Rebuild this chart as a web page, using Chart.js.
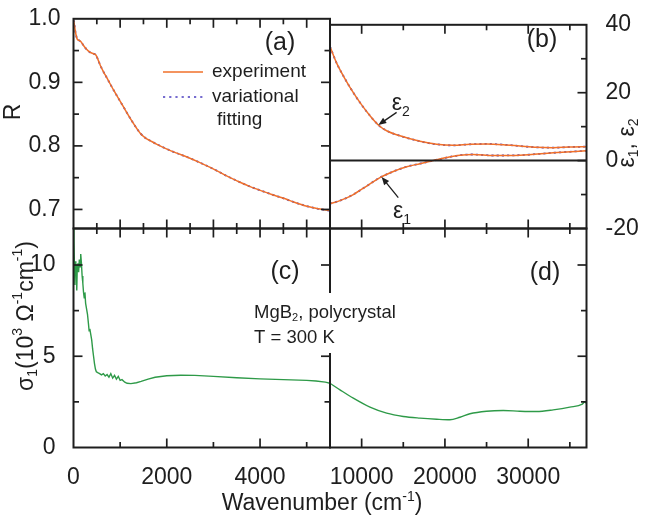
<!DOCTYPE html>
<html>
<head>
<meta charset="utf-8">
<script src="https://cdn.jsdelivr.net/npm/chart.js@4.4.1/dist/chart.umd.min.js"></script>
<style>
  html, body { margin: 0; padding: 0; background: #fff; }
  #wrap { position: relative; width: 647px; height: 520px; }
  #wrap canvas { position: absolute; left: 0; top: 0; }
</style>
</head>
<body>
<div id="wrap">
  <canvas id="pa" width="647" height="520"></canvas>
  <canvas id="pb" width="647" height="520"></canvas>
  <canvas id="pc" width="647" height="520"></canvas>
  <canvas id="pd" width="647" height="520"></canvas>
</div>
<script>
// (a) reflectivity, 0 - 5500 cm-1
const rWave = [0, 20, 40, 80, 120, 160, 215, 280, 360, 430, 480, 530, 573, 640, 716, 790, 858, 930, 1002, 1075, 1146, 1220, 1288, 1360, 1431, 1539, 1650, 1790, 2004, 2200, 2433, 2700, 3005, 3250, 3506, 3750, 4006, 4250, 4506, 4750, 5009, 5250, 5500];
const rExp = [0.998, 0.99, 0.98, 0.968, 0.966, 0.964, 0.958, 0.952, 0.947, 0.945, 0.943, 0.935, 0.927, 0.917, 0.907, 0.897, 0.888, 0.879, 0.870, 0.861, 0.852, 0.843, 0.835, 0.827, 0.820, 0.8125, 0.808, 0.8025, 0.795, 0.789, 0.7825, 0.774, 0.7635, 0.754, 0.745, 0.737, 0.730, 0.7235, 0.7175, 0.711, 0.705, 0.701, 0.698];
const rFit = [0.998, 0.99, 0.98, 0.968, 0.966, 0.964, 0.958, 0.952, 0.947, 0.945, 0.943, 0.935, 0.927, 0.917, 0.907, 0.897, 0.888, 0.879, 0.870, 0.861, 0.852, 0.843, 0.835, 0.827, 0.820, 0.8125, 0.808, 0.8025, 0.795, 0.789, 0.7825, 0.774, 0.7635, 0.754, 0.745, 0.737, 0.730, 0.7235, 0.7175, 0.711, 0.705, 0.701, 0.698];

// (b) dielectric function, 6200 - 37000 cm-1
const eps2Wave = [6200, 7000, 8000, 9000, 10000, 11000, 12000, 13000, 14600, 17000, 19000, 21000, 23000, 25000, 27000, 29000, 31000, 33000, 35000, 37000];
const eps2 = [33.6, 28.7, 24.1, 20.0, 16.4, 13.2, 10.5, 8.8, 7.3, 5.7, 4.8, 4.5, 4.8, 4.9, 4.7, 4.3, 3.9, 3.8, 4.0, 4.1];
const eps1Wave = [6200, 7400, 9000, 10600, 12200, 13800, 15400, 17000, 18600, 20200, 21800, 23400, 25800, 29000, 33000, 37000];
const eps1 = [-12.7, -11.8, -10.0, -7.5, -5.0, -3.2, -1.8, -0.9, 0.0, 0.9, 1.6, 1.8, 1.5, 1.6, 2.3, 2.9];

// (c) optical conductivity, 0 - 5500 cm-1 (10^3 Ohm-1 cm-1)
const sigLowWave = [0, 10, 20, 30, 40, 50, 60, 70, 80, 95, 110, 125, 140, 155, 170, 185, 200, 215, 230, 245, 260, 280, 300, 320, 335, 350, 370, 390, 410, 430, 450, 470, 490, 520, 560, 600, 640, 680, 720, 760, 800, 840, 880, 920, 960, 1000, 1040, 1100, 1150, 1230, 1350, 1450, 1600, 1750, 2000, 2300, 2600, 3000, 3500, 4000, 4500, 5000, 5200, 5400, 5500];
const sigLow = [12.0, 11.3, 10.0, 8.9, 10.2, 9.4, 10.0, 8.6, 9.8, 10.1, 9.6, 10.3, 9.9, 10.6, 10.1, 9.4, 9.0, 8.5, 8.2, 8.5, 7.9, 7.6, 7.3, 6.8, 6.4, 6.5, 6.2, 5.9, 5.4, 5.0, 4.6, 4.3, 4.15, 4.1, 4.05, 3.98, 4.05, 3.92, 4.0, 3.85, 4.05, 3.8, 3.95, 3.75, 3.9, 3.68, 3.72, 3.58, 3.52, 3.5, 3.55, 3.62, 3.75, 3.85, 3.93, 3.96, 3.95, 3.9, 3.82, 3.76, 3.72, 3.68, 3.64, 3.58, 3.52];

// (d) optical conductivity, 6200 - 37000 cm-1
const sigHighWave = [6200, 7400, 9000, 11000, 13000, 15000, 17000, 19000, 20600, 21800, 23000, 25000, 27000, 29000, 31000, 33000, 35000, 36500, 36800, 37000];
const sigHigh = [3.52, 3.16, 2.7, 2.21, 1.88, 1.70, 1.61, 1.55, 1.52, 1.66, 1.85, 1.99, 2.03, 1.99, 1.97, 2.06, 2.21, 2.38, 2.5, 2.42];

// tick labels
const rTicks = [0.7, 0.8, 0.9, 1.0];
const epsTicks = [-20, 0, 20, 40];
const sigTicks = [0, 5, 10];
const lowWaveTicks = [0, 2000, 4000];
const highWaveTicks = [10000, 20000, 30000];

const W = 647, H = 520;
const L = 73.5, M = 330, R = 586.5, T = 8.5, MID = 228.5, B = 447.5;
const INK = '#1e1e1e';
const FONT = "'Liberation Sans', Arial, sans-serif";
const ORANGE = '#f0702a', VIOLET = '#4a3cc0', GREEN = '#2e9a48';
const TICK_SIZE = 23;

Chart.defaults.font.family = FONT;
Chart.defaults.color = INK;

function range(a, b, step) {
    const out = [];
    for (let v = a; v <= b + 1e-9; v += step) out.push(+v.toFixed(4));
    return out;
}

function pts(xs, ys) {
    return xs.map(function (x, i) { return { x: x, y: ys[i] }; });
}

// draws text with sub / superscript pieces
function rich(ctx, parts, x, y, size, align) {
    const fontOf = p => ((p.sub || p.sup) ? Math.round(size * 0.62) : size) + 'px ' + FONT;
    let w = 0;
    parts.forEach(p => { ctx.font = fontOf(p); w += ctx.measureText(p.t).width; });
    let cx = align === 'center' ? x - w / 2 : x;
    ctx.textAlign = 'left';
    parts.forEach(p => {
        ctx.font = fontOf(p);
        const dy = p.sub ? size * 0.28 : p.sup ? -size * 0.4 : 0;
        ctx.fillText(p.t, cx, y + dy);
        cx += ctx.measureText(p.t).width;
    });
}

function isMajor(v, m) {
    const q = v / m;
    return Math.abs(q - Math.round(q)) < 1e-6;
}

// box frame with inward ticks on every side
function frame(cfg) {
    return {
        id: 'frame',
        afterDatasetsDraw(chart) {
            const { ctx, chartArea: a, scales: { x, y } } = chart;
            ctx.save();
            ctx.strokeStyle = INK;
            ctx.lineWidth = 1.7;
            const seg = (x0, y0, x1, y1) => { ctx.beginPath(); ctx.moveTo(x0, y0); ctx.lineTo(x1, y1); ctx.stroke(); };
            const len = (v, spec) => isMajor(v, spec.major) ? 9 : 5.5;
            if (cfg.top) cfg.top.vals.forEach(v => { const p = x.getPixelForValue(v); seg(p, a.top, p, a.top + len(v, cfg.top)); });
            if (cfg.bottom) cfg.bottom.vals.forEach(v => { const p = x.getPixelForValue(v); seg(p, a.bottom, p, a.bottom - len(v, cfg.bottom)); });
            if (cfg.left) cfg.left.vals.forEach(v => { const p = y.getPixelForValue(v); seg(a.left, p, a.left + len(v, cfg.left), p); });
            if (cfg.right) cfg.right.vals.forEach(v => { const p = y.getPixelForValue(v); seg(a.right, p, a.right - len(v, cfg.right), p); });
            ctx.lineWidth = 2;
            if (cfg.zero) { const p = y.getPixelForValue(0); seg(a.left, p, a.right, p); }
            ctx.strokeRect(a.left, a.top, a.right - a.left, a.bottom - a.top);
            ctx.restore();
        }
    };
}

function panel(id, area, xs, ys, datasets, ticksCfg, extra) {
    const yLeft = ys.position === 'left';
    const xH = xs.labels ? 44 : 0;
    const yW = yLeft ? area.l : W - area.r;
    const plugins = [frame(ticksCfg)];
    if (extra) plugins.push({ id: 'extra' + id, afterDraw: extra });
    return new Chart(document.getElementById(id), {
        type: 'line',
        data: { datasets: datasets },
        options: {
            responsive: false,
            animation: false,
            layout: {
                autoPadding: false,
                padding: {
                    left: yLeft ? 0 : area.l,
                    right: yLeft ? W - area.r : 0,
                    top: area.t,
                    bottom: H - area.b - xH
                }
            },
            plugins: { legend: { display: false }, tooltip: { enabled: false } },
            elements: { point: { radius: 0 }, line: { cubicInterpolationMode: 'monotone' } },
            scales: {
                x: {
                    type: 'linear', min: xs.min, max: xs.max,
                    grid: { display: false }, border: { display: false },
                    ticks: { display: !!xs.labels, padding: 8, font: { size: TICK_SIZE }, color: INK, maxRotation: 0, autoSkip: false, callback: v => String(v) },
                    afterBuildTicks: s => { if (xs.labels) s.ticks = xs.labels.map(v => ({ value: v })); },
                    afterFit: s => { s.height = xH; }
                },
                y: {
                    type: 'linear', position: ys.position, min: ys.min, max: ys.max,
                    grid: { display: false }, border: { display: false },
                    ticks: { display: !!ys.labels, padding: ys.pad || 8, font: { size: TICK_SIZE }, color: INK, autoSkip: false, callback: ys.fmt || (v => String(v)) },
                    afterBuildTicks: s => { if (ys.labels) s.ticks = ys.labels.map(v => ({ value: v })); },
                    afterFit: s => { s.width = yW; }
                }
            }
        },
        plugins: plugins
    });
}

function arrow(ctx, x0, y0, x1, y1) {
    const ang = Math.atan2(y1 - y0, x1 - x0);
    ctx.beginPath(); ctx.moveTo(x0, y0); ctx.lineTo(x1 - 5 * Math.cos(ang), y1 - 5 * Math.sin(ang)); ctx.stroke();
    ctx.beginPath();
    ctx.moveTo(x1, y1);
    ctx.lineTo(x1 - 8 * Math.cos(ang) + 3.2 * Math.sin(ang), y1 - 8 * Math.sin(ang) - 3.2 * Math.cos(ang));
    ctx.lineTo(x1 - 8 * Math.cos(ang) - 3.2 * Math.sin(ang), y1 - 8 * Math.sin(ang) + 3.2 * Math.cos(ang));
    ctx.closePath(); ctx.fill();
}

const expStyle = { borderColor: ORANGE, borderWidth: 1.5 };
const fitStyle = { borderColor: VIOLET, borderWidth: 1.8, borderDash: [2.2, 3] };

// (a)
panel('pa', { l: L, t: T, r: M, b: MID },
    { min: 0, max: 5500 },
    { position: 'left', min: 0.67, max: 1.0, labels: rTicks, pad: 5, fmt: v => v.toFixed(1) },
    [Object.assign({ data: pts(rWave, rExp) }, expStyle), Object.assign({ data: pts(rWave, rFit) }, fitStyle)],
    {
        top: { vals: range(500, 5500, 500), major: 1000 },
        bottom: { vals: range(500, 5500, 500), major: 1000 },
        left: { vals: range(0.7, 0.95, 0.05), major: 0.1 },
        right: { vals: range(0.7, 0.95, 0.05), major: 0.1 }
    },
    function (chart) {
        const ctx = chart.ctx;
        ctx.save();
        ctx.fillStyle = INK; ctx.textBaseline = 'middle';
        ctx.font = '25px ' + FONT; ctx.textAlign = 'center';
        ctx.fillText('(a)', 280, 43);
        ctx.font = '19px ' + FONT; ctx.textAlign = 'left';
        ctx.fillText('experiment', 212, 72);
        ctx.fillText('variational', 212, 97);
        ctx.fillText('fitting', 217, 120);
        ctx.lineWidth = 1.6;
        ctx.strokeStyle = ORANGE;
        ctx.beginPath(); ctx.moveTo(163, 72); ctx.lineTo(203, 72); ctx.stroke();
        ctx.strokeStyle = VIOLET; ctx.setLineDash([2.2, 4]);
        ctx.beginPath(); ctx.moveTo(163, 97); ctx.lineTo(203, 97); ctx.stroke();
        ctx.setLineDash([]);
        ctx.translate(14, 112); ctx.rotate(-Math.PI / 2);
        ctx.font = '23px ' + FONT; ctx.textAlign = 'center';
        ctx.fillText('R', 0, 0);
        ctx.restore();
    });

// (b)
panel('pb', { l: M, t: T, r: R, b: MID },
    { min: 6200, max: 37000 },
    { position: 'right', min: -20, max: 40, labels: epsTicks, pad: 11 },
    [Object.assign({ data: pts(eps2Wave, eps2) }, expStyle), Object.assign({ data: pts(eps2Wave, eps2) }, fitStyle),
     Object.assign({ data: pts(eps1Wave, eps1) }, expStyle), Object.assign({ data: pts(eps1Wave, eps1) }, fitStyle)],
    {
        top: { vals: range(10000, 35000, 5000), major: 10000 },
        bottom: { vals: range(10000, 35000, 5000), major: 10000 },
        right: { vals: range(-10, 30, 10), major: 20 },
        zero: true
    },
    function (chart) {
        const { ctx, scales: { x, y } } = chart;
        ctx.save();
        ctx.fillStyle = INK; ctx.strokeStyle = INK; ctx.lineWidth = 1.3;
        arrow(ctx, x.getPixelForValue(14200), y.getPixelForValue(14.2), x.getPixelForValue(12000), y.getPixelForValue(10.5));
        arrow(ctx, x.getPixelForValue(14400), y.getPixelForValue(-10.9), x.getPixelForValue(12400), y.getPixelForValue(-4.8));
        ctx.textBaseline = 'alphabetic';
        rich(ctx, [{ t: 'ε' }, { t: '2', sub: true }], x.getPixelForValue(13600), y.getPixelForValue(15.0), 23, 'left');
        rich(ctx, [{ t: 'ε' }, { t: '1', sub: true }], x.getPixelForValue(13760), y.getPixelForValue(-16.9), 23, 'left');
        ctx.textBaseline = 'middle';
        ctx.font = '25px ' + FONT; ctx.textAlign = 'center';
        ctx.fillText('(b)', 542, 40);
        ctx.translate(628, 143); ctx.rotate(-Math.PI / 2);
        rich(ctx, [{ t: 'ε' }, { t: '1', sub: true }, { t: ', ε' }, { t: '2', sub: true }], 0, 0, 23, 'center');
        ctx.restore();
    });

// (c)
panel('pc', { l: L, t: MID, r: M, b: B },
    { min: 0, max: 5500, labels: lowWaveTicks },
    { position: 'left', min: 0, max: 12, labels: sigTicks, pad: 10 },
    [{ data: pts(sigLowWave, sigLow), borderColor: GREEN, borderWidth: 1.4, cubicInterpolationMode: 'default', tension: 0 }],
    {
        top: { vals: range(500, 5500, 500), major: 1000 },
        bottom: { vals: range(1000, 5000, 1000), major: 2000 },
        left: { vals: range(2.5, 10, 2.5), major: 5 },
        right: { vals: range(2.5, 10, 2.5), major: 5 }
    },
    function (chart) {
        const ctx = chart.ctx;
        ctx.save();
        ctx.fillStyle = INK; ctx.textBaseline = 'middle';
        ctx.font = '25px ' + FONT; ctx.textAlign = 'center';
        ctx.fillText('(c)', 285, 272);
        ctx.translate(27, 316); ctx.rotate(-Math.PI / 2);
        rich(ctx, [{ t: 'σ' }, { t: '1', sub: true }, { t: '(10' }, { t: '3', sup: true }, { t: ' Ω' }, { t: '-1', sup: true }, { t: 'cm' }, { t: '-1', sup: true }, { t: ')' }], 0, 0, 23, 'center');
        ctx.restore();
    });

// (d)
panel('pd', { l: M, t: MID, r: R, b: B },
    { min: 6200, max: 37000, labels: highWaveTicks },
    { position: 'right', min: 0, max: 12 },
    [{ data: pts(sigHighWave, sigHigh), borderColor: GREEN, borderWidth: 1.4 }],
    {
        top: { vals: range(10000, 35000, 5000), major: 10000 },
        bottom: { vals: range(10000, 35000, 5000), major: 10000 },
        right: { vals: range(2.5, 10, 2.5), major: 5 }
    },
    function (chart) {
        const ctx = chart.ctx;
        ctx.save();
        ctx.fillStyle = INK; ctx.textBaseline = 'middle';
        ctx.font = '25px ' + FONT; ctx.textAlign = 'center';
        ctx.fillText('(d)', 545, 273);
        // sample note, opaque box over the divider
        ctx.fillStyle = '#fff';
        ctx.fillRect(250, 293, 150, 60);
        ctx.fillStyle = INK;
        rich(ctx, [{ t: 'MgB' }, { t: '2', sub: true }, { t: ', polycrystal' }], 254, 313, 18.5, 'left');
        rich(ctx, [{ t: 'T = 300 K' }], 254, 338, 18.5, 'left');
        ctx.textBaseline = 'alphabetic';
        rich(ctx, [{ t: 'Wavenumber (cm' }, { t: '-1', sup: true }, { t: ')' }], 322, 510, 23, 'center');
        ctx.restore();
    });
</script>
</body>
</html>
